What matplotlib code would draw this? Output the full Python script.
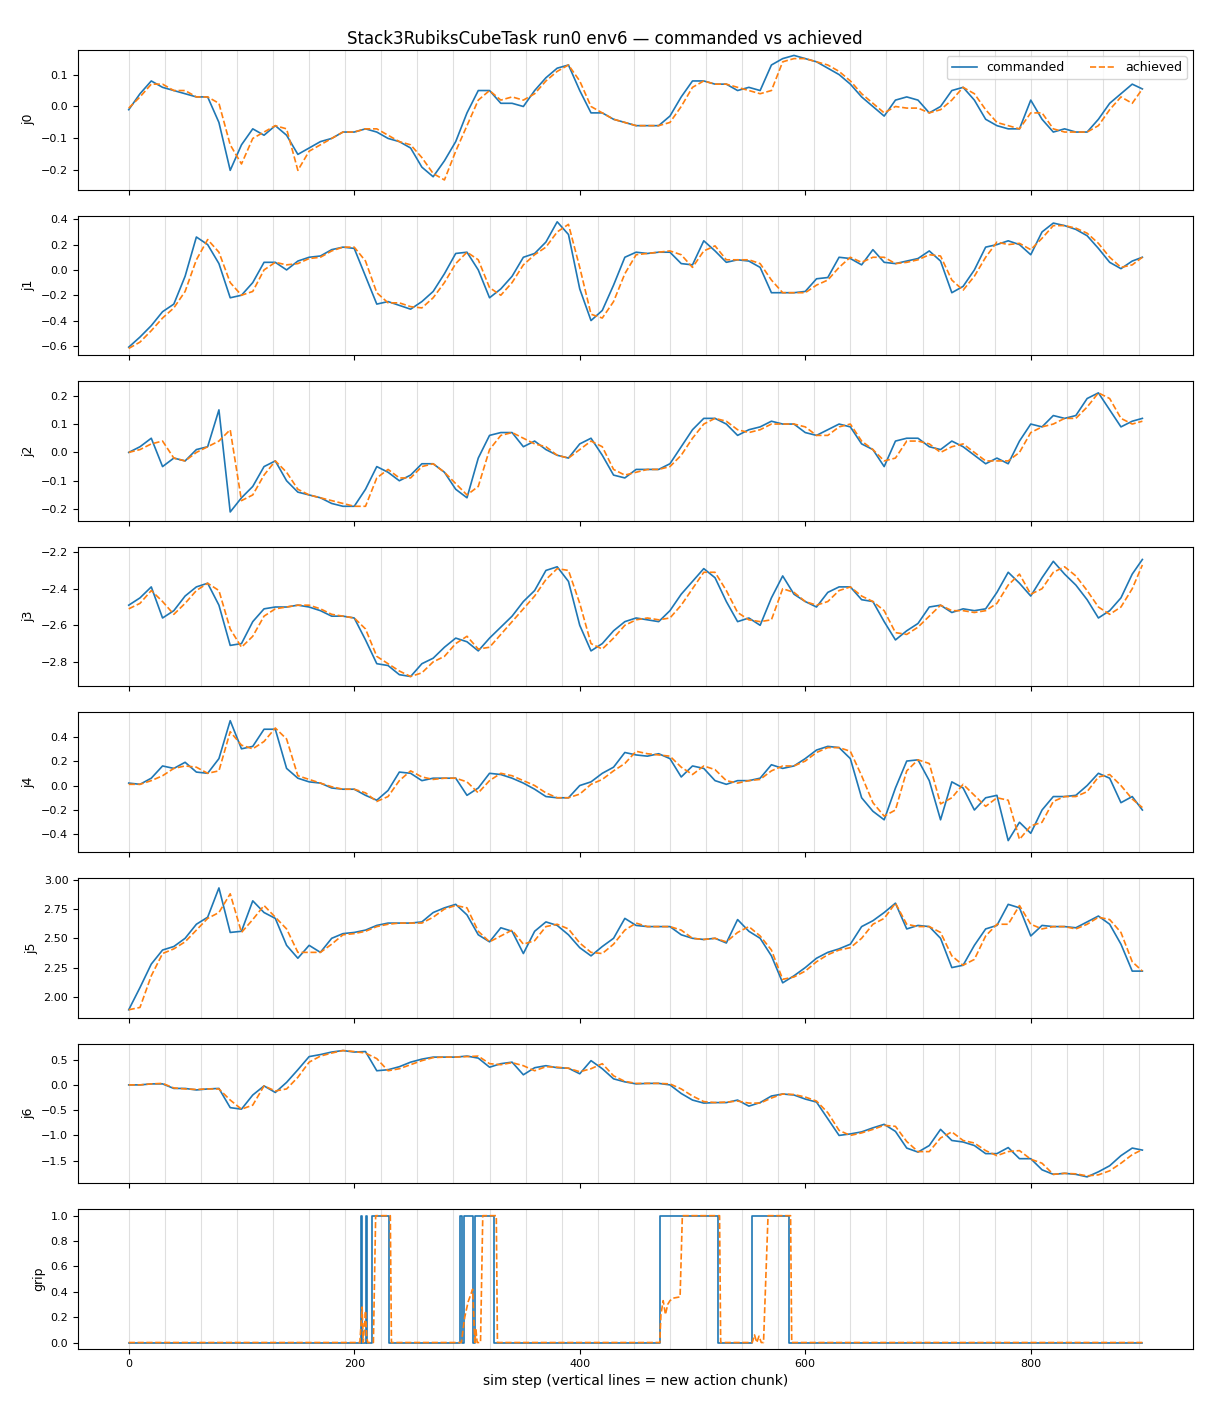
import matplotlib
matplotlib.use("Agg")
import matplotlib.pyplot as plt
import numpy as np

# sim steps sampled every 10 (plus last step)
steps = list(range(0, 900, 10)) + [899]
chunk_starts = list(range(0, 900, 32))

j0_cmd = [-0.01, 0.04, 0.08, 0.06, 0.05, 0.04, 0.03, 0.03, -0.05, -0.20,
          -0.12, -0.07, -0.09, -0.06, -0.09, -0.15, -0.13, -0.11, -0.10, -0.08,
          -0.08, -0.07, -0.08, -0.10, -0.11, -0.13, -0.19, -0.22, -0.17, -0.11,
          -0.02, 0.05, 0.05, 0.01, 0.01, 0.00, 0.05, 0.09, 0.12, 0.13,
          0.05, -0.02, -0.02, -0.04, -0.05, -0.06, -0.06, -0.06, -0.03, 0.03,
          0.08, 0.08, 0.07, 0.07, 0.05, 0.06, 0.05, 0.13, 0.15, 0.16,
          0.15, 0.14, 0.12, 0.10, 0.07, 0.03, 0.00, -0.03, 0.02, 0.03,
          0.02, -0.02, 0.00, 0.05, 0.06, 0.02, -0.04, -0.06, -0.07, -0.07,
          0.02, -0.04, -0.08, -0.07, -0.08, -0.08, -0.04, 0.01, 0.04, 0.07,
          0.055]
j0_ach = [-0.005, 0.03, 0.07, 0.07, 0.05, 0.05, 0.03, 0.03, 0.01, -0.12,
          -0.18, -0.10, -0.08, -0.06, -0.07, -0.20, -0.14, -0.12, -0.10, -0.08,
          -0.08, -0.07, -0.07, -0.09, -0.11, -0.12, -0.16, -0.21, -0.23, -0.14,
          -0.06, 0.02, 0.05, 0.02, 0.03, 0.02, 0.04, 0.08, 0.11, 0.13,
          0.08, 0.00, -0.02, -0.04, -0.05, -0.06, -0.06, -0.06, -0.05, 0.00,
          0.06, 0.08, 0.07, 0.07, 0.06, 0.05, 0.04, 0.05, 0.14, 0.15,
          0.15, 0.14, 0.13, 0.11, 0.08, 0.04, 0.01, -0.02, 0.00, -0.005,
          -0.005, -0.02, -0.01, 0.02, 0.06, 0.04, -0.01, -0.05, -0.06, -0.07,
          -0.02, -0.02, -0.07, -0.08, -0.08, -0.08, -0.06, -0.01, 0.03, 0.01,
          0.055]

j1_cmd = [-0.61, -0.53, -0.44, -0.33, -0.27, -0.05, 0.26, 0.20, 0.05, -0.22,
          -0.20, -0.10, 0.06, 0.06, 0.00, 0.07, 0.10, 0.11, 0.16, 0.18,
          0.17, -0.05, -0.27, -0.25, -0.28, -0.31, -0.25, -0.17, -0.03, 0.13,
          0.14, 0.00, -0.22, -0.15, -0.05, 0.10, 0.13, 0.22, 0.38, 0.28,
          -0.15, -0.40, -0.32, -0.12, 0.10, 0.14, 0.13, 0.14, 0.14, 0.05,
          0.04, 0.23, 0.15, 0.06, 0.08, 0.07, 0.02, -0.18, -0.18, -0.18,
          -0.17, -0.07, -0.06, 0.10, 0.09, 0.04, 0.16, 0.06, 0.05, 0.07,
          0.09, 0.15, 0.07, -0.18, -0.13, 0.00, 0.18, 0.20, 0.23, 0.20,
          0.12, 0.30, 0.37, 0.35, 0.32, 0.27, 0.17, 0.06, 0.01, 0.07,
          0.10]
j1_ach = [-0.62, -0.57, -0.48, -0.38, -0.30, -0.17, 0.08, 0.24, 0.14, -0.10,
          -0.20, -0.17, 0.00, 0.06, 0.04, 0.05, 0.09, 0.10, 0.15, 0.18,
          0.18, 0.07, -0.18, -0.26, -0.26, -0.29, -0.30, -0.22, -0.10, 0.05,
          0.14, 0.08, -0.14, -0.20, -0.10, 0.04, 0.12, 0.18, 0.30, 0.36,
          0.02, -0.35, -0.38, -0.25, -0.03, 0.12, 0.13, 0.14, 0.15, 0.12,
          0.02, 0.15, 0.19, 0.08, 0.08, 0.08, 0.05, -0.08, -0.18, -0.18,
          -0.18, -0.12, -0.08, 0.02, 0.10, 0.06, 0.10, 0.10, 0.05, 0.06,
          0.08, 0.12, 0.11, -0.08, -0.16, -0.05, 0.10, 0.22, 0.20, 0.21,
          0.16, 0.25, 0.35, 0.35, 0.33, 0.29, 0.21, 0.10, 0.02, 0.04,
          0.10]

j2_cmd = [0.00, 0.02, 0.05, -0.05, -0.02, -0.03, 0.01, 0.02, 0.15, -0.21,
          -0.16, -0.12, -0.05, -0.03, -0.10, -0.14, -0.15, -0.16, -0.18, -0.19,
          -0.19, -0.13, -0.05, -0.07, -0.10, -0.08, -0.04, -0.04, -0.07, -0.13,
          -0.16, -0.02, 0.06, 0.07, 0.07, 0.02, 0.04, 0.01, -0.01, -0.02,
          0.03, 0.05, -0.01, -0.08, -0.09, -0.06, -0.06, -0.06, -0.04, 0.02,
          0.08, 0.12, 0.12, 0.10, 0.06, 0.08, 0.09, 0.11, 0.10, 0.10,
          0.07, 0.06, 0.08, 0.10, 0.09, 0.03, 0.01, -0.05, 0.04, 0.05,
          0.05, 0.02, 0.01, 0.04, 0.02, -0.01, -0.04, -0.02, -0.04, 0.04,
          0.10, 0.09, 0.13, 0.12, 0.13, 0.19, 0.21, 0.15, 0.09, 0.11,
          0.12]
j2_ach = [0.00, 0.01, 0.03, 0.04, -0.02, -0.03, 0.00, 0.02, 0.04, 0.08,
          -0.17, -0.15, -0.08, -0.03, -0.07, -0.13, -0.15, -0.16, -0.17, -0.18,
          -0.19, -0.19, -0.09, -0.06, -0.09, -0.09, -0.05, -0.04, -0.07, -0.11,
          -0.15, -0.12, 0.01, 0.06, 0.07, 0.05, 0.03, 0.02, -0.01, -0.02,
          0.01, 0.04, 0.02, -0.06, -0.08, -0.07, -0.06, -0.06, -0.05, -0.01,
          0.05, 0.10, 0.12, 0.11, 0.08, 0.07, 0.08, 0.10, 0.10, 0.10,
          0.09, 0.06, 0.06, 0.09, 0.10, 0.04, 0.01, -0.03, -0.02, 0.04,
          0.04, 0.03, 0.00, 0.02, 0.03, 0.00, -0.03, -0.03, -0.03, 0.00,
          0.07, 0.09, 0.10, 0.12, 0.12, 0.16, 0.21, 0.19, 0.12, 0.10,
          0.11]

j3_cmd = [-2.49, -2.45, -2.39, -2.56, -2.52, -2.44, -2.39, -2.37, -2.49, -2.71,
          -2.70, -2.58, -2.51, -2.50, -2.50, -2.49, -2.50, -2.52, -2.55, -2.55,
          -2.56, -2.68, -2.81, -2.82, -2.87, -2.88, -2.81, -2.78, -2.72, -2.67,
          -2.69, -2.74, -2.67, -2.61, -2.55, -2.47, -2.41, -2.30, -2.28, -2.36,
          -2.60, -2.74, -2.70, -2.63, -2.58, -2.56, -2.57, -2.58, -2.52, -2.43,
          -2.36, -2.29, -2.34, -2.47, -2.58, -2.56, -2.60, -2.45, -2.33, -2.43,
          -2.47, -2.50, -2.42, -2.39, -2.39, -2.46, -2.47, -2.58, -2.68, -2.63,
          -2.59, -2.50, -2.49, -2.53, -2.51, -2.52, -2.51, -2.42, -2.31, -2.37,
          -2.44, -2.34, -2.25, -2.32, -2.38, -2.46, -2.56, -2.52, -2.45, -2.32,
          -2.24]
j3_ach = [-2.51, -2.48, -2.41, -2.47, -2.54, -2.48, -2.41, -2.37, -2.41, -2.62,
          -2.72, -2.66, -2.55, -2.51, -2.50, -2.49, -2.49, -2.51, -2.54, -2.55,
          -2.56, -2.62, -2.77, -2.81, -2.85, -2.88, -2.86, -2.80, -2.77, -2.70,
          -2.66, -2.73, -2.72, -2.65, -2.58, -2.51, -2.44, -2.35, -2.29, -2.30,
          -2.48, -2.70, -2.73, -2.67, -2.60, -2.57, -2.56, -2.57, -2.56, -2.49,
          -2.40, -2.31, -2.31, -2.41, -2.53, -2.57, -2.58, -2.57, -2.40, -2.42,
          -2.47, -2.49, -2.47, -2.41, -2.39, -2.44, -2.47, -2.52, -2.64, -2.65,
          -2.61, -2.55, -2.49, -2.52, -2.52, -2.53, -2.52, -2.48, -2.38, -2.32,
          -2.43, -2.40, -2.31, -2.28, -2.33, -2.41, -2.50, -2.54, -2.50, -2.40,
          -2.27]

j4_cmd = [0.02, 0.01, 0.06, 0.16, 0.14, 0.19, 0.11, 0.10, 0.22, 0.53,
          0.30, 0.32, 0.46, 0.46, 0.14, 0.06, 0.03, 0.02, -0.02, -0.03,
          -0.03, -0.08, -0.12, -0.04, 0.11, 0.10, 0.04, 0.06, 0.06, 0.06,
          -0.08, -0.02, 0.10, 0.09, 0.06, 0.02, -0.03, -0.09, -0.10, -0.10,
          0.00, 0.03, 0.10, 0.15, 0.27, 0.25, 0.24, 0.26, 0.22, 0.07,
          0.16, 0.14, 0.04, 0.01, 0.04, 0.04, 0.06, 0.17, 0.14, 0.16,
          0.22, 0.29, 0.32, 0.31, 0.22, -0.10, -0.21, -0.28, -0.02, 0.20,
          0.21, 0.04, -0.28, 0.03, -0.02, -0.20, -0.10, -0.08, -0.45, -0.30,
          -0.39, -0.20, -0.09, -0.09, -0.08, 0.00, 0.10, 0.06, -0.14, -0.09,
          -0.20]
j4_ach = [0.01, 0.01, 0.04, 0.08, 0.14, 0.16, 0.15, 0.10, 0.12, 0.44,
          0.33, 0.30, 0.36, 0.47, 0.38, 0.08, 0.05, 0.02, -0.01, -0.03,
          -0.03, -0.06, -0.13, -0.09, 0.04, 0.12, 0.07, 0.05, 0.06, 0.06,
          0.03, -0.06, 0.04, 0.10, 0.08, 0.04, 0.00, -0.06, -0.10, -0.10,
          -0.07, 0.01, 0.05, 0.12, 0.18, 0.28, 0.26, 0.25, 0.24, 0.15,
          0.09, 0.16, 0.13, 0.04, 0.02, 0.04, 0.05, 0.12, 0.16, 0.16,
          0.20, 0.27, 0.31, 0.31, 0.28, 0.08, -0.14, -0.25, -0.20, 0.12,
          0.21, 0.18, -0.15, -0.10, 0.01, -0.08, -0.17, -0.10, -0.12, -0.44,
          -0.33, -0.30, -0.13, -0.09, -0.09, -0.05, 0.07, 0.09, 0.00, -0.11,
          -0.18]

j5_cmd = [1.89, 2.08, 2.28, 2.40, 2.43, 2.50, 2.62, 2.68, 2.93, 2.55,
          2.56, 2.82, 2.72, 2.67, 2.44, 2.33, 2.44, 2.38, 2.50, 2.54,
          2.55, 2.57, 2.61, 2.63, 2.63, 2.63, 2.64, 2.72, 2.76, 2.79,
          2.70, 2.53, 2.47, 2.59, 2.56, 2.37, 2.56, 2.64, 2.61, 2.53,
          2.42, 2.35, 2.43, 2.50, 2.67, 2.61, 2.60, 2.60, 2.60, 2.53,
          2.50, 2.49, 2.50, 2.46, 2.66, 2.56, 2.50, 2.35, 2.12, 2.18,
          2.25, 2.33, 2.38, 2.41, 2.45, 2.60, 2.65, 2.72, 2.80, 2.58,
          2.61, 2.60, 2.50, 2.25, 2.27, 2.44, 2.58, 2.61, 2.79, 2.76,
          2.52, 2.61, 2.60, 2.60, 2.59, 2.64, 2.69, 2.62, 2.45, 2.22,
          2.22]
j5_ach = [1.89, 1.91, 2.18, 2.37, 2.41, 2.47, 2.57, 2.67, 2.72, 2.88,
          2.55, 2.66, 2.78, 2.68, 2.58, 2.38, 2.38, 2.38, 2.45, 2.53,
          2.54, 2.56, 2.60, 2.62, 2.63, 2.63, 2.63, 2.68, 2.75, 2.78,
          2.76, 2.56, 2.47, 2.52, 2.57, 2.45, 2.48, 2.60, 2.62, 2.58,
          2.46, 2.38, 2.37, 2.45, 2.57, 2.63, 2.60, 2.60, 2.60, 2.57,
          2.50, 2.49, 2.50, 2.47, 2.55, 2.60, 2.52, 2.40, 2.15, 2.17,
          2.22, 2.30, 2.36, 2.40, 2.42, 2.50, 2.62, 2.67, 2.80, 2.62,
          2.60, 2.60, 2.55, 2.35, 2.27, 2.32, 2.52, 2.62, 2.62, 2.78,
          2.62, 2.58, 2.60, 2.60, 2.58, 2.62, 2.68, 2.66, 2.55, 2.30,
          2.22]

j6_cmd = [0.00, 0.00, 0.02, 0.02, -0.07, -0.07, -0.10, -0.08, -0.07, -0.45,
          -0.48, -0.20, -0.02, -0.15, 0.05, 0.30, 0.56, 0.60, 0.65, 0.68,
          0.65, 0.66, 0.28, 0.30, 0.36, 0.45, 0.51, 0.55, 0.55, 0.55,
          0.57, 0.53, 0.35, 0.42, 0.45, 0.20, 0.34, 0.38, 0.34, 0.33,
          0.22, 0.48, 0.32, 0.12, 0.06, 0.02, 0.03, 0.03, 0.00, -0.17,
          -0.30, -0.36, -0.35, -0.35, -0.30, -0.42, -0.35, -0.22, -0.18, -0.20,
          -0.28, -0.34, -0.67, -1.00, -0.97, -0.93, -0.85, -0.78, -0.92, -1.25,
          -1.33, -1.20, -0.88, -1.10, -1.13, -1.20, -1.36, -1.36, -1.24, -1.46,
          -1.46, -1.68, -1.77, -1.75, -1.77, -1.82, -1.72, -1.60, -1.40, -1.25,
          -1.29]
j6_ach = [0.00, 0.00, 0.02, 0.03, -0.06, -0.08, -0.09, -0.08, -0.08, -0.30,
          -0.48, -0.40, -0.02, -0.12, -0.08, 0.15, 0.45, 0.57, 0.63, 0.68,
          0.66, 0.63, 0.52, 0.28, 0.32, 0.40, 0.48, 0.54, 0.55, 0.55,
          0.56, 0.57, 0.42, 0.40, 0.44, 0.38, 0.28, 0.36, 0.35, 0.33,
          0.26, 0.32, 0.42, 0.18, 0.07, 0.03, 0.03, 0.03, 0.02, -0.08,
          -0.22, -0.33, -0.35, -0.34, -0.32, -0.36, -0.36, -0.26, -0.18, -0.19,
          -0.24, -0.32, -0.55, -0.90, -1.00, -0.95, -0.88, -0.80, -0.82, -1.12,
          -1.32, -1.32, -1.05, -0.93, -1.10, -1.15, -1.30, -1.40, -1.32, -1.30,
          -1.47, -1.55, -1.77, -1.75, -1.76, -1.80, -1.78, -1.70, -1.55, -1.38,
          -1.28]

# gripper: commanded is a 0/1 signal given at its switch steps
grip_cmd_x = [0, 206, 207, 210, 211, 216, 231, 294, 296, 297, 305, 307, 324,
              471, 523, 553, 586, 899]
grip_cmd_y = [0, 1, 0, 1, 0, 1, 0, 1, 0, 1, 0, 1, 0, 1, 0, 1, 0, 0]
grip_ach_x = [0, 205, 207, 208, 210, 211, 212, 217, 219, 232, 233,
              295, 298, 301, 305, 307, 308, 309, 310, 312, 314, 326, 327,
              471, 472, 474, 476, 478, 480, 483, 489, 491, 524, 525,
              553, 555, 557, 559, 561, 563, 567, 587, 588, 899]
grip_ach_y = [0, 0, 0.28, 0.0, 0.25, 0.05, 0.0, 0.0, 1.0, 1.0, 0.0,
              0.0, 0.2, 0.32, 0.42, 0.0, 0.1, 0.0, 0.0, 0.0, 1.0, 1.0, 0.0,
              0.0, 0.22, 0.33, 0.22, 0.30, 0.33, 0.35, 0.36, 1.0, 1.0, 0.0,
              0.0, 0.06, 0.0, 0.05, 0.0, 0.0, 1.0, 1.0, 0.0, 0.0]

j5_ticks = [2.0, 2.25, 2.5, 2.75, 3.0]

joints = [("j0", j0_cmd, j0_ach, (-0.26, 0.177)),
          ("j1", j1_cmd, j1_ach, (-0.673, 0.429)),
          ("j2", j2_cmd, j2_ach, (-0.241, 0.251)),
          ("j3", j3_cmd, j3_ach, (-2.934, -2.171)),
          ("j4", j4_cmd, j4_ach, (-0.543, 0.597)),
          ("j5", j5_cmd, j5_ach, (1.823, 3.014)),
          ("j6", j6_cmd, j6_ach, (-1.946, 0.815))]

fig, axes = plt.subplots(8, 1, figsize=(12.1, 14.08), dpi=100, sharex=True)
fig.subplots_adjust(left=0.0645, right=0.986, top=0.9645, bottom=0.042, hspace=0.187)

for ax in axes:
    for c in chunk_starts:
        ax.axvline(c, color="gray", alpha=0.25, lw=0.8, zorder=0)
    ax.tick_params(labelsize=8)

for ax, (name, cmd, ach, lim) in zip(axes[:7], joints):
    ax.plot(steps, cmd, color="C0", lw=1.2, label="commanded")
    ax.plot(steps, ach, color="C1", ls="--", lw=1.2, label="achieved")
    ax.set_ylim(lim)
    ax.set_ylabel(name, fontsize=9)

axes[5].set_yticks(j5_ticks)
axes[5].yaxis.set_major_formatter(plt.FormatStrFormatter("%.2f"))
axes[5].set_ylim(joints[5][3])

ax = axes[7]
ax.plot(grip_cmd_x, grip_cmd_y, color="C0", lw=1.2, drawstyle="steps-post")
ax.plot(grip_ach_x, grip_ach_y, color="C1", ls="--", lw=1.2)
ax.set_ylabel("grip", fontsize=9)
ax.set_xlabel("sim step (vertical lines = new action chunk)", fontsize=10)

axes[0].legend(loc="upper right", ncol=2, fontsize=9)
fig.suptitle("Stack3RubiksCubeTask run0 env6 \u2014 commanded vs achieved", fontsize=12, y=0.979)

fig.savefig("out.png")
